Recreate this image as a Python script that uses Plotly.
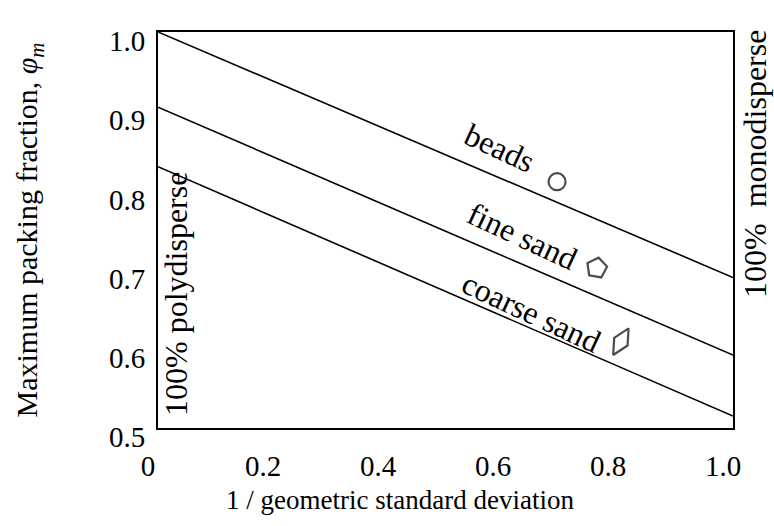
import plotly.graph_objects as go

# Data
x_line = [0.0, 1.0]
beads_line = [1.0, 0.69]
fine_line = [0.905, 0.592]
coarse_line = [0.83, 0.515]

marker_x = [0.694, 0.763, 0.805]
marker_y = [0.811, 0.702, 0.609]
marker_symbols = ["circle-open", "pentagon-open", "diamond-tall-open"]
marker_angles = [0, 10, 30]

label_text = ["beads", "fine sand", "coarse sand"]
label_x = [0.594, 0.633, 0.648]
label_y = [0.853, 0.742, 0.646]

xticks = [0, 0.2, 0.4, 0.6, 0.8, 1.0]
xticktext = ["0", "0.2", "0.4", "0.6", "0.8", "1.0"]
yticks = [0.5, 0.6, 0.7, 0.8, 0.9, 1.0]
yticktext = ["0.5", "0.6", "0.7", "0.8", "0.9", "1.0"]

x_title = "1 / geometric standard deviation"
y_title = "Maximum packing fraction, <i>φ</i><sub><i>m</i></sub>"

FONT = "Liberation Serif"
TICK = 29
TXT = 32

fig = go.Figure()
for yv in (beads_line, fine_line, coarse_line):
    fig.add_trace(go.Scatter(x=x_line, y=yv, mode="lines",
                             line=dict(color="black", width=1.6),
                             showlegend=False, hoverinfo="skip"))

fig.add_trace(go.Scatter(x=marker_x, y=marker_y, mode="markers",
                         marker=dict(symbol=marker_symbols, size=[17, 21, 22],
                                     angle=marker_angles,
                                     color="black", line=dict(width=2.2, color="black")),
                         showlegend=False, hoverinfo="skip"))

for t, xx, yy in zip(label_text, label_x, label_y):
    fig.add_annotation(x=xx, y=yy, text=t, showarrow=False, textangle=25,
                       font=dict(family=FONT, size=TXT, color="black"))

fig.add_annotation(x=0.0, y=0.5, xref="x", yref="y", text="100% polydisperse",
                   showarrow=False, textangle=-90, xanchor="left", yanchor="bottom",
                   xshift=-2, yshift=10,
                   font=dict(family=FONT, size=TXT, color="black"))
fig.add_annotation(x=1.0, y=1.0, xref="x", yref="y", text="100%&nbsp; monodisperse",
                   showarrow=False, textangle=-90, xanchor="left", yanchor="top",
                   xshift=2, yshift=4,
                   font=dict(family=FONT, size=TXT, color="black"))

# x-axis title (placed left of centre as in the reference)
fig.add_annotation(x=0.421, y=0, xref="paper", yref="paper", text=x_title,
                   showarrow=False, xanchor="center", yanchor="middle", yshift=-72,
                   font=dict(family=FONT, size=27, color="black"))

fig.update_layout(
    width=774, height=526,
    margin=dict(l=158, r=41, t=32, b=98),
    paper_bgcolor="white", plot_bgcolor="white",
    font=dict(family=FONT, size=TICK, color="black"),
)
fig.update_xaxes(range=[0, 1.0], tickvals=xticks, ticktext=xticktext,
                 tickfont=dict(family=FONT, size=TICK),
                 showgrid=False, zeroline=False, showline=True, mirror=True,
                 linecolor="black", linewidth=2, ticks="", ticklabelstandoff=11,
                 ticklabelshift=-10)
fig.update_yaxes(range=[0.5, 1.0], tickvals=yticks, ticktext=yticktext,
                 tickfont=dict(family=FONT, size=TICK),
                 showgrid=False, zeroline=False, showline=True, mirror=True,
                 linecolor="black", linewidth=2, ticks="", ticklabelstandoff=5,
                 ticklabelshift=9,
                 title=dict(text=y_title, standoff=62,
                            font=dict(family=FONT, size=30)))

fig.write_html("out.html")
